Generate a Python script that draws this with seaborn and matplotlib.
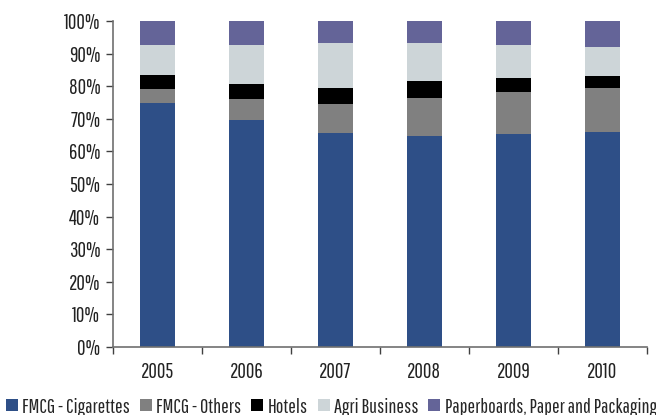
import matplotlib
matplotlib.use("Agg")
import matplotlib.pyplot as plt
import matplotlib.font_manager as fm
from matplotlib.patches import Patch
from matplotlib.ticker import FixedLocator, PercentFormatter
import numpy as np
import pandas as pd
import seaborn as sns

years = ["2005", "2006", "2007", "2008", "2009", "2010"]
cigarettes = [74.8, 69.6, 65.6, 64.7, 65.3, 66.0]
fmcg_others = [4.3, 6.5, 8.9, 11.7, 12.9, 13.4]
hotels = [4.3, 4.6, 4.9, 5.2, 4.3, 3.7]
agri = [9.2, 11.9, 13.9, 11.7, 10.1, 8.9]
paper = [7.4, 7.4, 6.7, 6.7, 7.4, 8.0]

series_names = ["FMCG - Cigarettes", "FMCG - Others", "Hotels", "Agri Business",
                "Paperboards, Paper and Packaging"]
colors = ["#2E4F87", "#808080", "#000000", "#CDD5D8", "#646498"]

sns.set_style("white")
names = {f.name for f in fm.fontManager.ttflist}
candidates = ["Pathway Gothic One", "Roboto Condensed", "Archivo Narrow",
              "Liberation Sans Narrow", "DejaVu Sans"]
family = next(c for c in candidates if c in names)
plt.rcParams["font.family"] = [family]

values = np.array([cigarettes, fmcg_others, hotels, agri, paper])
cum = np.cumsum(values, axis=0)

fig = plt.figure(figsize=(6.56, 4.15), dpi=100)
ax = fig.add_axes([0.172, 0.164, 0.814, 0.785])

# draw cumulative stacks from the top down so lower segments overlay higher ones
for i in range(len(series_names) - 1, -1, -1):
    df = pd.DataFrame({"year": years, "value": cum[i]})
    sns.barplot(data=df, x="year", y="value", color=colors[i], width=0.4,
                saturation=1, ax=ax, linewidth=0, edgecolor="none")

ax.set_xlim(-0.5, 5.5)
ax.set_ylim(0, 100)
ax.set_yticks(np.arange(0, 101, 10))
ax.yaxis.set_major_formatter(PercentFormatter(decimals=0))
ax.set_xlabel("")
ax.set_ylabel("")

for s in ["top", "right"]:
    ax.spines[s].set_visible(False)
for s in ["left", "bottom"]:
    ax.spines[s].set_color("#707070")
    ax.spines[s].set_linewidth(1.2)

ax.tick_params(axis="y", which="major", left=True, length=5, width=1, color="#404040",
               labelsize=15, labelcolor="#222222", pad=4)
ax.xaxis.set_minor_locator(FixedLocator(np.arange(-0.5, 5.6, 1)))
ax.tick_params(axis="x", which="minor", bottom=True, length=5, width=1, color="#404040")
ax.tick_params(axis="x", which="major", bottom=False, length=0, labelsize=15,
               labelcolor="#222222", pad=11)

handles = [Patch(facecolor=c, edgecolor="none") for c in colors]
fig.legend(handles, series_names, loc="center", bbox_to_anchor=(0.505, 1 - 407 / 415),
           ncol=5, frameon=False, fontsize=14.5, handlelength=0.6, handleheight=0.55,
           handletextpad=0.2, columnspacing=0.5, borderaxespad=0, borderpad=0)

fig.savefig("out.png", dpi=100)
